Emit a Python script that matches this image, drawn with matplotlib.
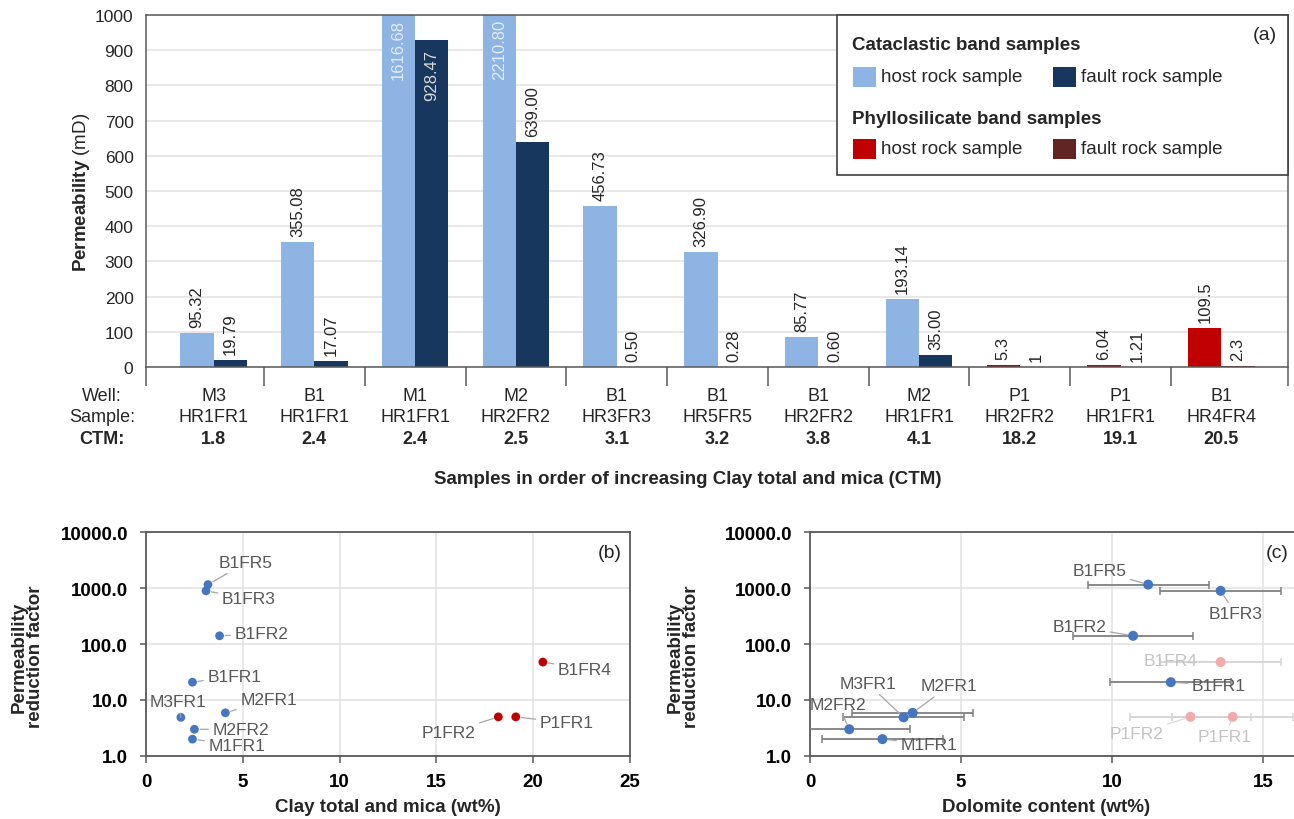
import numpy as np
import matplotlib
matplotlib.use("Agg")
import matplotlib.pyplot as plt
from matplotlib.patches import Rectangle
from matplotlib.transforms import blended_transform_factory
from matplotlib.ticker import FuncFormatter, NullLocator, FixedLocator

plt.rcParams['font.family'] = ['Liberation Sans', 'DejaVu Sans']
plt.rcParams['mathtext.fontset'] = 'custom'
plt.rcParams['mathtext.rm'] = 'Liberation Sans'
plt.rcParams['mathtext.bf'] = 'Liberation Sans:bold'

# ---------------- data ----------------
wells = ['M3', 'B1', 'M1', 'M2', 'B1', 'B1', 'B1', 'M2', 'P1', 'P1', 'B1']
samples = ['HR1FR1', 'HR1FR1', 'HR1FR1', 'HR2FR2', 'HR3FR3', 'HR5FR5',
           'HR2FR2', 'HR1FR1', 'HR2FR2', 'HR1FR1', 'HR4FR4']
ctm = [1.8, 2.4, 2.4, 2.5, 3.1, 3.2, 3.8, 4.1, 18.2, 19.1, 20.5]
ctm_labels = ['1.8', '2.4', '2.4', '2.5', '3.1', '3.2', '3.8', '4.1', '18.2', '19.1', '20.5']
band = ['cataclastic', 'cataclastic', 'cataclastic', 'cataclastic', 'cataclastic',
        'cataclastic', 'cataclastic', 'cataclastic', 'phyllosilicate',
        'phyllosilicate', 'phyllosilicate']
host_perm = [95.32, 355.08, 1616.68, 2210.80, 456.73, 326.90, 85.77, 193.14, 5.3, 6.04, 109.5]
fault_perm = [19.79, 17.07, 928.47, 639.00, 0.50, 0.28, 0.60, 35.00, 1.0, 1.21, 2.3]
host_labels = ['95.32', '355.08', '1616.68', '2210.80', '456.73', '326.90', '85.77',
               '193.14', '5.3', '6.04', '109.5']
fault_labels = ['19.79', '17.07', '928.47', '639.00', '0.50', '0.28', '0.60',
                '35.00', '1', '1.21', '2.3']

fault_names = ['M3FR1', 'B1FR1', 'M1FR1', 'M2FR2', 'B1FR3', 'B1FR5', 'B1FR2',
               'M2FR1', 'P1FR2', 'P1FR1', 'B1FR4']
reduction = [4.9, 20.8, 2.0, 3.0, 890, 1150, 140, 5.9, 5.0, 5.0, 47.6]
dolomite = [3.1, 11.95, 2.4, 1.3, 13.6, 11.2, 10.7, 3.4, 12.6, 14.0, 13.6]
dolomite_err = [2.0, 2.0, 2.0, 2.0, 2.0, 2.0, 2.0, 2.0, 2.0, 2.0, 2.0]

# ---------------- style ----------------
W, H = 1294, 820
HOST_C = {'cataclastic': '#8DB4E2', 'phyllosilicate': '#C00000'}
FAULT_C = {'cataclastic': '#17375E', 'phyllosilicate': '#632523'}
DOT_B = {'cataclastic': '#4577C0', 'phyllosilicate': '#C00000'}
DOT_C = {'cataclastic': '#4577C0', 'phyllosilicate': '#F2ABAB'}
ERR_C = {'cataclastic': '#808080', 'phyllosilicate': '#D4D4D4'}
LBL_C = {'cataclastic': '#595959', 'phyllosilicate': '#C4C4C4'}
SPINE = '#595959'
GRID = '#E4E4E4'
TXT = '#262626'

# label offsets (pixels): dx, dy, ha
off_b = {'M3FR1': (-3, 16, 'center'), 'B1FR1': (15, 6, 'left'), 'M1FR1': (16, -6, 'left'),
         'M2FR2': (18, 0, 'left'), 'B1FR3': (16, -8, 'left'), 'B1FR5': (11, 22, 'left'),
         'B1FR2': (15, 2, 'left'), 'M2FR1': (15, 13, 'left'), 'P1FR2': (-23, -16, 'right'),
         'P1FR1': (24, -6, 'left'), 'B1FR4': (15, -7, 'left')}
off_c = {'M3FR1': (-36, 34, 'center'), 'B1FR1': (21, -3, 'left'), 'M1FR1': (18, -5, 'left'),
         'M2FR2': (-11, 25, 'center'), 'B1FR3': (15, -23, 'center'), 'B1FR5': (-22, 14, 'right'),
         'B1FR2': (-27, 9, 'right'), 'M2FR1': (8, 27, 'left'), 'P1FR2': (-27, -17, 'right'),
         'P1FR1': (-8, -20, 'center'), 'B1FR4': (-23, 2, 'right')}


def rect(l, t, r, b):
    return [l / W, 1 - b / H, (r - l) / W, (b - t) / H]


def fx(px):
    return px / W


def fy(py):
    return 1 - py / H


fig = plt.figure(figsize=(W / 100, H / 100), dpi=100)

# ================= panel (a) =================
ax = fig.add_axes(rect(146, 16, 1288, 368))
x = np.arange(len(wells))
bw = 0.33
ax.bar(x - bw / 2, host_perm, bw, color=[HOST_C[b] for b in band], zorder=2)
ax.bar(x + bw / 2, fault_perm, bw, color=[FAULT_C[b] for b in band], zorder=2)
xmin, xmax = -0.67, len(wells) - 1 + 0.66
ax.set_xlim(xmin, xmax)
ax.set_ylim(0, 1000)
ax.set_yticks(np.arange(0, 1001, 100))
ax.yaxis.grid(True, color=GRID, lw=1.2)
ax.set_axisbelow(True)
ax.tick_params(axis='y', length=0, pad=9, labelsize=12.5, labelcolor=TXT)
ax.xaxis.set_major_locator(FixedLocator([xmin] + list(x[:-1] + 0.5) + [xmax]))
ax.tick_params(axis='x', length=14, width=1.1, color=SPINE, labelbottom=False)
for s in ax.spines.values():
    s.set_color(SPINE)
    s.set_linewidth(1.1)

ymax = 1000
for xs, vals, labs, cols in [(x - bw / 2, host_perm, host_labels, None),
                             (x + bw / 2, fault_perm, fault_labels, None)]:
    for xi, v, lab in zip(xs, vals, labs):
        if v >= 0.9 * ymax:
            clipped = v > ymax
            ax.annotate(lab, xy=(xi, min(v, ymax)), xytext=(0, -4 if clipped else -9),
                        textcoords='offset pixels', rotation=90, ha='center', va='top',
                        fontsize=12, color='#E4ECF6' if clipped else '#D9D9D9', zorder=4)
        else:
            ax.annotate(lab, xy=(xi, v), xytext=(0, 6), textcoords='offset pixels',
                        rotation=90, ha='center', va='bottom', fontsize=12,
                        color=TXT, zorder=4)

trans = blended_transform_factory(ax.transData, fig.transFigure)
for i in range(len(wells)):
    ax.text(x[i], fy(397), wells[i], transform=trans, ha='center', va='center',
            fontsize=13, color=TXT)
    ax.text(x[i], fy(418), samples[i], transform=trans, ha='center', va='center',
            fontsize=13, color=TXT)
    ax.text(x[i], fy(440), ctm_labels[i], transform=trans, ha='center', va='center',
            fontsize=13, color=TXT, fontweight='bold')
fig.text(fx(102), fy(397), 'Well:', ha='center', va='center', fontsize=13, color=TXT)
fig.text(fx(102), fy(418), 'Sample:', ha='center', va='center', fontsize=13, color=TXT)
fig.text(fx(102), fy(440), 'CTM:', ha='center', va='center', fontsize=13, color=TXT,
         fontweight='bold')
fig.text(fx(688), fy(480), 'Samples in order of increasing Clay total and mica (CTM)',
         ha='center', va='center', fontsize=13.5, fontweight='bold', color=TXT)
fig.text(fx(81), fy(192), r'$\mathbf{Permeability}$ (mD)', rotation=90,
         ha='center', va='center', fontsize=13.5, color=TXT)

# legend box
fig.add_artist(Rectangle((fx(837), fy(176)), (1288 - 837) / W, (176 - 16) / H,
                         transform=fig.transFigure, fc='white', ec='#404040', lw=1.2,
                         zorder=5))
fig.text(fx(1277), fy(35), '(a)', ha='right', va='center', fontsize=14, color=TXT, zorder=6)
legend_rows = [('Cataclastic band samples', 'cataclastic', 46, 78),
               ('Phyllosilicate band samples', 'phyllosilicate', 119, 150)]
for title, b, ty, ry in legend_rows:
    fig.text(fx(852), fy(ty), title, ha='left', va='center', fontsize=13.5,
             fontweight='bold', color=TXT, zorder=6)
    for px0, col, lab in [(853, HOST_C[b], 'host rock sample'),
                          (1053, FAULT_C[b], 'fault rock sample')]:
        fig.add_artist(Rectangle((fx(px0), fy(ry + 10)), 23 / W, 20 / H,
                                 transform=fig.transFigure, fc=col, ec='none', zorder=6))
        fig.text(fx(px0 + 28), fy(ry), lab, ha='left', va='center', fontsize=13.5,
                 color=TXT, zorder=6)


# ================= panels (b), (c) =================
def style_log_panel(a):
    a.set_yscale('log')
    a.set_ylim(1, 10000)
    a.yaxis.set_major_locator(FixedLocator([1, 10, 100, 1000, 10000]))
    a.yaxis.set_minor_locator(NullLocator())
    a.yaxis.set_major_formatter(FuncFormatter(lambda v, p: f'{v:.1f}'))
    a.grid(True, which='major', color=GRID, lw=1.2)
    a.set_axisbelow(True)
    a.tick_params(axis='y', length=4, width=1.1, color=SPINE, pad=9, labelsize=13.5)
    a.tick_params(axis='x', length=5, width=1.1, color=SPINE, pad=7, labelsize=13.5)
    for lab in a.get_xticklabels() + a.get_yticklabels():
        lab.set_fontweight('bold')
    for s in a.spines.values():
        s.set_color(SPINE)
        s.set_linewidth(1.3)


axb = fig.add_axes(rect(146, 533, 630, 757))
style_log_panel(axb)
axb.set_xlim(0, 25)
axb.set_xticks([0, 5, 10, 15, 20, 25])
for lab in axb.get_xticklabels() + axb.get_yticklabels():
    lab.set_fontweight('bold')
for xi, yi, b, nm in zip(ctm, reduction, band, fault_names):
    axb.scatter(xi, yi, s=40, color=DOT_B[b], zorder=4, edgecolors='none')
    dx, dy, ha = off_b[nm]
    axb.annotate(nm, xy=(xi, yi), xytext=(dx, dy), textcoords='offset pixels',
                 ha=ha, va='center', fontsize=12.5, color='#595959', zorder=5,
                 arrowprops=dict(arrowstyle='-', color='#A6A6A6', lw=0.9,
                                 shrinkA=1, shrinkB=4))
fig.text(fx(622), fy(553), '(b)', ha='right', va='center', fontsize=14, color=TXT)
fig.text(fx(388), fy(808), 'Clay total and mica (wt%)', ha='center', va='center',
         fontsize=13.5, fontweight='bold', color=TXT)
fig.text(fx(27), fy(657), 'Permeability\nreduction factor', rotation=90, ha='center',
         va='center', fontsize=13.5, fontweight='bold', color=TXT, linespacing=0.95)

axc = fig.add_axes(rect(810, 533, 1294, 757))
style_log_panel(axc)
axc.set_xlim(0, 16.03)
axc.set_xticks([0, 5, 10, 15])
for lab in axc.get_xticklabels() + axc.get_yticklabels():
    lab.set_fontweight('bold')
axc.spines['right'].set_visible(False)
for xi, yi, e, b, nm in zip(dolomite, reduction, dolomite_err, band, fault_names):
    axc.errorbar(xi, yi, xerr=e, fmt='none', ecolor=ERR_C[b], elinewidth=1.3,
                 capsize=3, capthick=1.1, zorder=3)
    axc.scatter(xi, yi, s=52, color=DOT_C[b], zorder=4, edgecolors='none')
    dx, dy, ha = off_c[nm]
    axc.annotate(nm, xy=(xi, yi), xytext=(dx, dy), textcoords='offset pixels',
                 ha=ha, va='center', fontsize=12.5, color=LBL_C[b], zorder=5,
                 arrowprops=dict(arrowstyle='-', color='#A6A6A6' if b == 'cataclastic'
                                 else '#D9D9D9', lw=0.9, shrinkA=1, shrinkB=4))
fig.text(fx(1289), fy(553), '(c)', ha='right', va='center', fontsize=14, color=TXT)
fig.text(fx(1046), fy(808), 'Dolomite content (wt%)', ha='center', va='center',
         fontsize=13.5, fontweight='bold', color=TXT)
fig.text(fx(683), fy(657), 'Permeability\nreduction factor', rotation=90, ha='center',
         va='center', fontsize=13.5, fontweight='bold', color=TXT, linespacing=0.95)

fig.savefig('out.png', dpi=100)
